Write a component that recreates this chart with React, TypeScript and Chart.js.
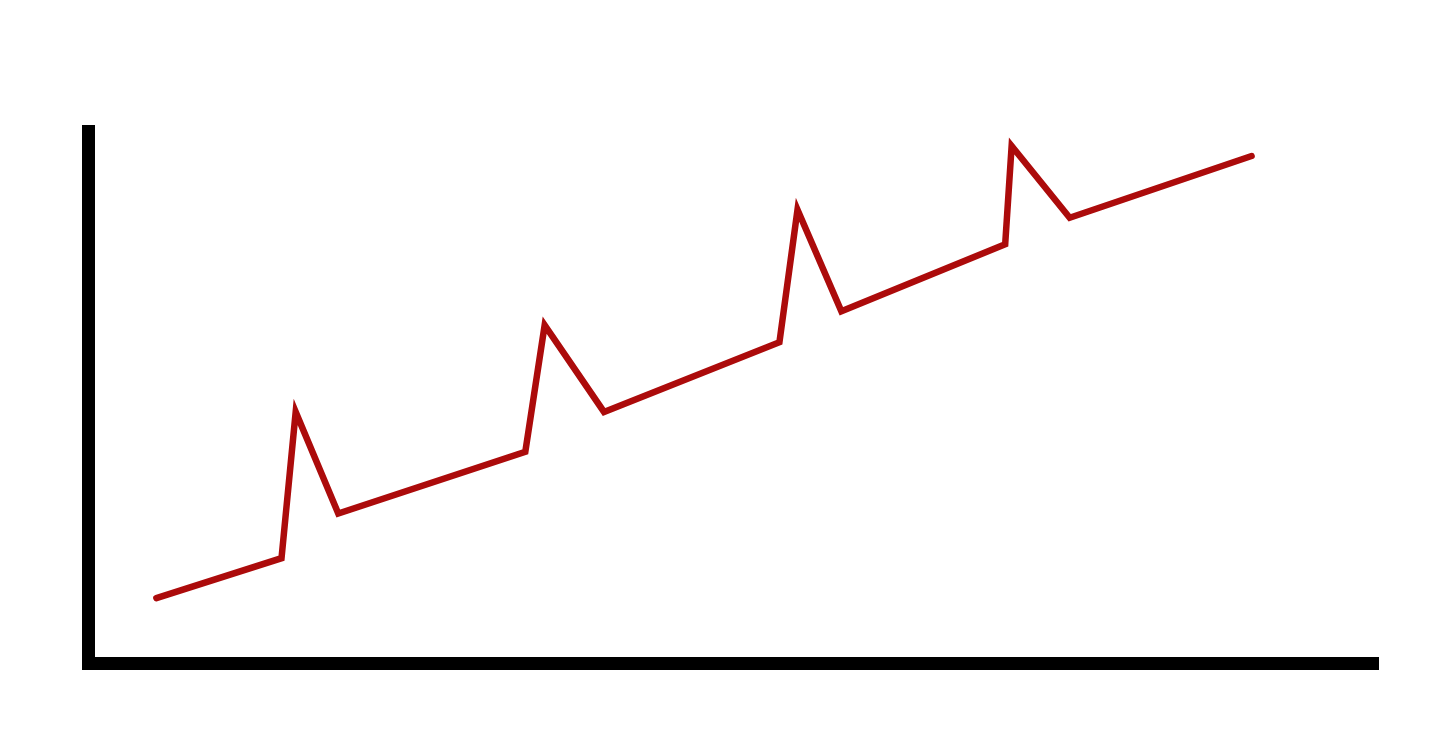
import React, { useEffect, useRef } from 'react';
import Chart from 'chart.js/auto';

// x positions and values of the sawtooth trend line
const xValues: number[] = [5.3, 15.0, 16.1, 19.4, 33.9, 35.4, 40.0, 53.6, 55.0, 58.4, 71.1, 71.6, 76.1, 90.2];
const yValues: number[] = [12.2, 19.7, 47.2, 28.1, 39.7, 63.5, 47.2, 60.3, 85.2, 66.1, 78.7, 97.2, 83.7, 95.3];

const xRange: number[] = [0, 100];
const yRange: number[] = [0, 100];

const App: React.FC = () => {
    const chartRef = useRef<HTMLCanvasElement | null>(null);
    const chartInstanceRef = useRef<Chart | null>(null);

    useEffect(() => {
        document.body.style.margin = '0';
        if (!chartRef.current) return;
        if (chartInstanceRef.current) {
            chartInstanceRef.current.destroy();
        }
        const ctx = chartRef.current.getContext('2d');
        if (!ctx) return;

        const points = xValues.map((x, i) => ({ x, y: yValues[i] }));

        chartInstanceRef.current = new Chart(ctx, {
            type: 'line',
            data: {
                datasets: [
                    {
                        data: points,
                        borderColor: '#ac0b0b',
                        borderWidth: 6.5,
                        borderCapStyle: 'round',
                        borderJoinStyle: 'miter',
                        pointRadius: 0,
                        fill: false,
                        tension: 0,
                    },
                ],
            },
            options: {
                responsive: false,
                animation: false,
                layout: {
                    padding: { left: 80, right: 62, top: 131, bottom: 67 },
                },
                plugins: {
                    legend: { display: false },
                    tooltip: { enabled: false },
                },
                scales: {
                    x: {
                        type: 'linear',
                        min: xRange[0],
                        max: xRange[1],
                        ticks: { display: false },
                        grid: { display: false },
                        border: { display: true, color: '#000', width: 13 },
                    },
                    y: {
                        type: 'linear',
                        min: yRange[0],
                        max: yRange[1],
                        ticks: { display: false },
                        grid: { display: false },
                        border: { display: true, color: '#000', width: 13 },
                    },
                },
            },
        });

        return () => {
            if (chartInstanceRef.current) {
                chartInstanceRef.current.destroy();
                chartInstanceRef.current = null;
            }
        };
    }, []);

    return (
        <div style={{ position: 'absolute', left: 0, top: 0, width: 1440, height: 738, background: '#fff' }}>
            <canvas ref={chartRef} width={1440} height={738} />
        </div>
    );
};

export default App;
